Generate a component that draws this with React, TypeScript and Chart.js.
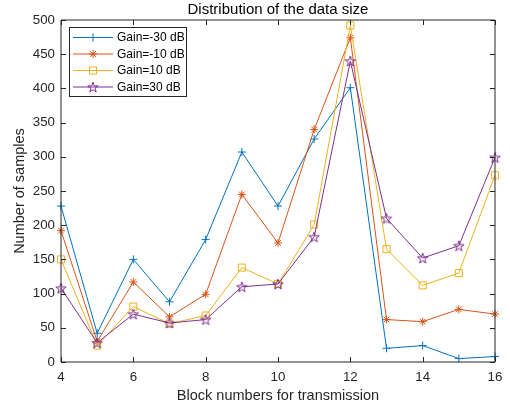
import React, { useEffect, useRef } from 'react';
import { Chart, registerables } from 'chart.js';

Chart.register(...registerables);

const chartTitle = 'Distribution of the data size';
const xAxisTitle = 'Block numbers for transmission';
const yAxisTitle = 'Number of samples';

const blockNumbers = [4, 5, 6, 7, 8, 9, 10, 11, 12, 13, 14, 15, 16];
const gainMinus30 = [228, 42, 150, 88, 179, 307, 228, 326, 401, 20, 24, 5, 8];
const gainMinus10 = [192, 30, 117, 66, 99, 245, 174, 340, 474, 62, 59, 77, 70];
const gainPlus10 = [150, 24, 81, 56, 68, 138, 114, 201, 492, 165, 112, 130, 273];
const gainPlus30 = [108, 28, 70, 57, 62, 110, 114, 183, 440, 210, 152, 170, 299];

const seriesLabels = ['Gain=-30 dB', 'Gain=-10 dB', 'Gain=10 dB', 'Gain=30 dB'];
const seriesColors = ['#0072BD', '#D95319', '#EDB120', '#7E2F8E'];

const xTicks = [4, 6, 8, 10, 12, 14, 16];
const yTicks = [0, 50, 100, 150, 200, 250, 300, 350, 400, 450, 500];

const FONT = '"Liberation Sans", Arial, Helvetica, sans-serif';
const AXIS_COLOR = '#262626';

function makePentagram(color: string): HTMLCanvasElement {
  const s = 14;
  const c = document.createElement('canvas');
  c.width = s;
  c.height = s;
  const ctx = c.getContext('2d')!;
  const cx = s / 2;
  const cy = s / 2 + 0.6;
  const R = 5.5;
  const r = R * 0.382;
  ctx.beginPath();
  for (let i = 0; i < 10; i++) {
    const ang = -Math.PI / 2 + (i * Math.PI) / 5;
    const rad = i % 2 === 0 ? R : r;
    const px = cx + rad * Math.cos(ang);
    const py = cy + rad * Math.sin(ang);
    if (i === 0) ctx.moveTo(px, py);
    else ctx.lineTo(px, py);
  }
  ctx.closePath();
  ctx.strokeStyle = color;
  ctx.lineWidth = 1;
  ctx.stroke();
  return c;
}

function drawMarker(ctx: CanvasRenderingContext2D, style: any, x: number, y: number, color: string) {
  ctx.save();
  ctx.strokeStyle = color;
  ctx.lineWidth = 1;
  if (style === 'cross') {
    ctx.beginPath();
    ctx.moveTo(x - 4, y);
    ctx.lineTo(x + 4, y);
    ctx.moveTo(x, y - 4);
    ctx.lineTo(x, y + 4);
    ctx.stroke();
  } else if (style === 'star') {
    ctx.beginPath();
    const r = 4;
    for (let i = 0; i < 4; i++) {
      const a = (i * Math.PI) / 4;
      ctx.moveTo(x - r * Math.cos(a), y - r * Math.sin(a));
      ctx.lineTo(x + r * Math.cos(a), y + r * Math.sin(a));
    }
    ctx.stroke();
  } else if (style === 'rect') {
    ctx.strokeRect(x - 3.5, y - 3.5, 7, 7);
  } else if (style instanceof HTMLCanvasElement) {
    ctx.drawImage(style, x - style.width / 2, y - style.height / 2);
  }
  ctx.restore();
}

export default function App() {
  const canvasRef = useRef<HTMLCanvasElement | null>(null);

  useEffect(() => {
    const canvas = canvasRef.current;
    if (!canvas) return;
    const pentagram = makePentagram(seriesColors[3]);
    const pointStyles: any[] = ['cross', 'star', 'rect', pentagram];
    const values = [gainMinus30, gainMinus10, gainPlus10, gainPlus30];

    const datasets = values.map((vals, i) => ({
      label: seriesLabels[i],
      data: blockNumbers.map((b, j) => ({ x: b, y: vals[j] })),
      borderColor: seriesColors[i],
      backgroundColor: 'rgba(0,0,0,0)',
      borderWidth: 1,
      pointStyle: pointStyles[i],
      pointRadius: i === 2 ? 5 : 4,
      pointBorderColor: seriesColors[i],
      pointBackgroundColor: 'rgba(0,0,0,0)',
      pointBorderWidth: 1,
      tension: 0,
      fill: false,
      clip: false as any,
      order: 3 - i,
    }));

    const decorPlugin = {
      id: 'matlabDecor',
      afterDraw(chart: any) {
        const ctx: CanvasRenderingContext2D = chart.ctx;
        const { left, right, top, bottom } = chart.chartArea;
        const xs = chart.scales.x;
        const ys = chart.scales.y;
        ctx.save();
        // box
        ctx.strokeStyle = AXIS_COLOR;
        ctx.lineWidth = 1;
        ctx.beginPath();
        ctx.rect(left, top, right - left, bottom - top);
        ctx.stroke();
        // inward ticks
        const tl = 5;
        ctx.beginPath();
        xTicks.forEach((t) => {
          const px = Math.round(xs.getPixelForValue(t)) + 0.5;
          ctx.moveTo(px, bottom);
          ctx.lineTo(px, bottom - tl);
          ctx.moveTo(px, top);
          ctx.lineTo(px, top + tl);
        });
        yTicks.forEach((t) => {
          const py = Math.round(ys.getPixelForValue(t)) + 0.5;
          ctx.moveTo(left, py);
          ctx.lineTo(left + tl, py);
          ctx.moveTo(right, py);
          ctx.lineTo(right - tl, py);
        });
        ctx.stroke();

        // title
        ctx.fillStyle = '#000000';
        ctx.font = `15px ${FONT}`;
        ctx.textAlign = 'center';
        ctx.textBaseline = 'middle';
        ctx.fillText(chartTitle, (left + right) / 2, 10);

        // axis titles
        ctx.fillStyle = AXIS_COLOR;
        ctx.font = `14.5px ${FONT}`;
        ctx.fillText(xAxisTitle, (left + right) / 2, 396);
        ctx.save();
        ctx.translate(20, (top + bottom) / 2);
        ctx.rotate(-Math.PI / 2);
        ctx.fillText(yAxisTitle, 0, 0);
        ctx.restore();

        // legend
        const lx = 69.5;
        const ly = 27.5;
        const lw = 117;
        const lh = 69;
        ctx.fillStyle = '#ffffff';
        ctx.fillRect(lx, ly, lw, lh);
        ctx.strokeStyle = AXIS_COLOR;
        ctx.lineWidth = 1;
        ctx.strokeRect(lx, ly, lw, lh);
        const rowY = [37.5, 54, 70.5, 87];
        ctx.font = `12px ${FONT}`;
        ctx.textAlign = 'left';
        ctx.textBaseline = 'middle';
        seriesLabels.forEach((lab, i) => {
          const y = rowY[i];
          ctx.strokeStyle = seriesColors[i];
          ctx.lineWidth = 1;
          ctx.beginPath();
          ctx.moveTo(73, y);
          ctx.lineTo(113, y);
          ctx.stroke();
          drawMarker(ctx, pointStyles[i], 93, y, seriesColors[i]);
          ctx.fillStyle = '#000000';
          ctx.fillText(lab, 117, y + 0.5);
        });
        ctx.restore();
      },
    };

    const chart = new Chart(canvas, {
      type: 'line',
      data: { datasets: datasets as any },
      options: {
        responsive: false,
        animation: false,
        layout: { padding: { left: 0, right: 15, top: 20, bottom: 0 } },
        plugins: {
          legend: { display: false },
          title: { display: false },
          tooltip: { enabled: false },
        },
        scales: {
          x: {
            type: 'linear',
            min: 4,
            max: 16,
            afterFit: (s: any) => {
              s.height = 48;
            },
            afterBuildTicks: (s: any) => {
              s.ticks = xTicks.map((v) => ({ value: v }));
            },
            grid: { display: false, drawTicks: false },
            border: { display: false },
            ticks: {
              padding: 7,
              color: AXIS_COLOR,
              font: { family: FONT, size: 13.3 },
              maxRotation: 0,
              autoSkip: false,
            },
          },
          y: {
            type: 'linear',
            min: 0,
            max: 500,
            afterFit: (s: any) => {
              s.width = 61;
            },
            afterBuildTicks: (s: any) => {
              s.ticks = yTicks.map((v) => ({ value: v }));
            },
            grid: { display: false, drawTicks: false },
            border: { display: false },
            ticks: {
              padding: 6,
              color: AXIS_COLOR,
              font: { family: FONT, size: 13.3 },
              autoSkip: false,
            },
          },
        },
      },
      plugins: [decorPlugin],
    });

    return () => {
      chart.destroy();
    };
  }, []);

  return (
    <div style={{ position: 'absolute', left: 0, top: 0, width: 510, height: 410, background: '#ffffff' }}>
      <canvas ref={canvasRef} width={510} height={410} style={{ width: 510, height: 410, display: 'block' }} />
    </div>
  );
}
